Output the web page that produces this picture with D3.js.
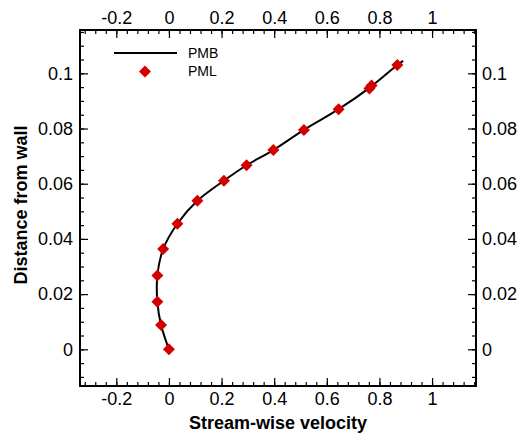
<!DOCTYPE html>
<html>
<head>
    <script src="https://cdnjs.cloudflare.com/ajax/libs/d3/7.8.5/d3.min.js"></script>
    <style>
        body { margin: 0; background: #fff; }
        text { font-family: 'Liberation Sans', Arial, sans-serif; }
    </style>
</head>
<body>
    <div id="root"></div>
    <script>
        // PMB curve (line)
        const pmbU = [0, -0.03, -0.044, -0.044, -0.022, 0.032, 0.108, 0.209, 0.295, 0.397, 0.513, 0.645, 0.767, 0.868, 0.89]
        const pmbY = [0, 0.0088, 0.0172, 0.0267, 0.0363, 0.0455, 0.0538, 0.0611, 0.0667, 0.0722, 0.0795, 0.087, 0.0951, 0.103, 0.1045]
        // PML points (markers)
        const pmlU = [0, -0.03, -0.044, -0.044, -0.022, 0.032, 0.108, 0.209, 0.295, 0.397, 0.513, 0.645, 0.762, 0.770, 0.868]
        const pmlY = [0, 0.0088, 0.0172, 0.0267, 0.0363, 0.0455, 0.0538, 0.0611, 0.0667, 0.0722, 0.0795, 0.087, 0.0945, 0.0956, 0.103]

        const xTicks = [-0.2, 0, 0.2, 0.4, 0.6, 0.8, 1]
        const yTicks = [0, 0.02, 0.04, 0.06, 0.08, 0.1]

        const W = 522, H = 435
        const pLeft = 80, pRight = 476, pTop = 30, pBottom = 386

        const x = d3.scaleLinear().domain([-0.338, 1.167]).range([pLeft, pRight])
        const y = d3.scaleLinear().domain([-0.0133, 0.1157]).range([pBottom, pTop])

        const svg = d3.select("#root").append("svg").attr("width", W).attr("height", H)

        const xMinor = d3.range(-0.32, 1.17, 0.04).map(v => Math.round(v * 100) / 100)
        const yMinor = d3.range(-0.01, 0.1157, 0.005).map(v => Math.round(v * 1000) / 1000)

        const fmt = d => String(+d.toFixed(3))

        // bottom axis
        svg.append("g").attr("transform", `translate(0,${pBottom})`)
            .call(d3.axisBottom(x).tickValues(xMinor).tickSize(-4).tickFormat(""))
        svg.append("g").attr("transform", `translate(0,${pBottom})`)
            .call(d3.axisBottom(x).tickValues(xTicks).tickSize(-8).tickPadding(6).tickFormat(fmt))
        // top axis
        svg.append("g").attr("transform", `translate(0,${pTop})`)
            .call(d3.axisTop(x).tickValues(xMinor).tickSize(-4).tickFormat(""))
        svg.append("g").attr("transform", `translate(0,${pTop})`)
            .call(d3.axisTop(x).tickValues(xTicks).tickSize(-8).tickPadding(6).tickFormat(fmt))
        // left axis
        svg.append("g").attr("transform", `translate(${pLeft},0)`)
            .call(d3.axisLeft(y).tickValues(yMinor).tickSize(-4).tickFormat(""))
        svg.append("g").attr("transform", `translate(${pLeft},0)`)
            .call(d3.axisLeft(y).tickValues(yTicks).tickSize(-8).tickPadding(7).tickFormat(fmt))
        // right axis
        svg.append("g").attr("transform", `translate(${pRight},0)`)
            .call(d3.axisRight(y).tickValues(yMinor).tickSize(-4).tickFormat(""))
        svg.append("g").attr("transform", `translate(${pRight},0)`)
            .call(d3.axisRight(y).tickValues(yTicks).tickSize(-8).tickPadding(6).tickFormat(fmt))

        svg.selectAll(".domain").remove()
        svg.selectAll(".tick line").attr("stroke", "#000").attr("stroke-width", 1.2)
        svg.selectAll(".tick text").attr("font-size", 18).attr("fill", "#000")
            .style("font-family", "'Liberation Sans', Arial, sans-serif")

        svg.append("rect").attr("x", pLeft).attr("y", pTop)
            .attr("width", pRight - pLeft).attr("height", pBottom - pTop)
            .attr("fill", "none").attr("stroke", "#000").attr("stroke-width", 2)

        // PMB line
        const line = d3.line().x(d => x(d[0])).y(d => y(d[1])).curve(d3.curveCatmullRom)
        svg.append("path").datum(d3.zip(pmbU, pmbY)).attr("d", line)
            .attr("fill", "none").attr("stroke", "#000").attr("stroke-width", 2)

        // PML markers
        const diamond = d3.symbol().type(d3.symbolSquare).size(72)
        svg.selectAll(".pml").data(d3.zip(pmlU, pmlY)).enter().append("path")
            .attr("class", "pml")
            .attr("d", diamond)
            .attr("transform", d => `translate(${x(d[0])},${y(d[1])}) rotate(45)`)
            .attr("fill", "#d40000")

        // legend
        svg.append("line").attr("x1", 114).attr("x2", 177).attr("y1", 53).attr("y2", 53)
            .attr("stroke", "#000").attr("stroke-width", 2)
        svg.append("text").attr("x", 188).attr("y", 58).attr("font-size", 14).text("PMB")
        svg.append("path").attr("d", diamond).attr("transform", "translate(145,71.5) rotate(45)")
            .attr("fill", "#d40000")
        svg.append("text").attr("x", 188).attr("y", 76).attr("font-size", 14).text("PML")

        // axis titles
        svg.append("text").attr("x", 278).attr("y", 429)
            .attr("text-anchor", "middle").attr("font-size", 18).attr("font-weight", "bold")
            .text("Stream-wise velocity")
        svg.append("text").attr("transform", `translate(27,205) rotate(-90)`)
            .attr("text-anchor", "middle").attr("font-size", 18).attr("font-weight", "bold")
            .text("Distance from wall")
    </script>
</body>
</html>
